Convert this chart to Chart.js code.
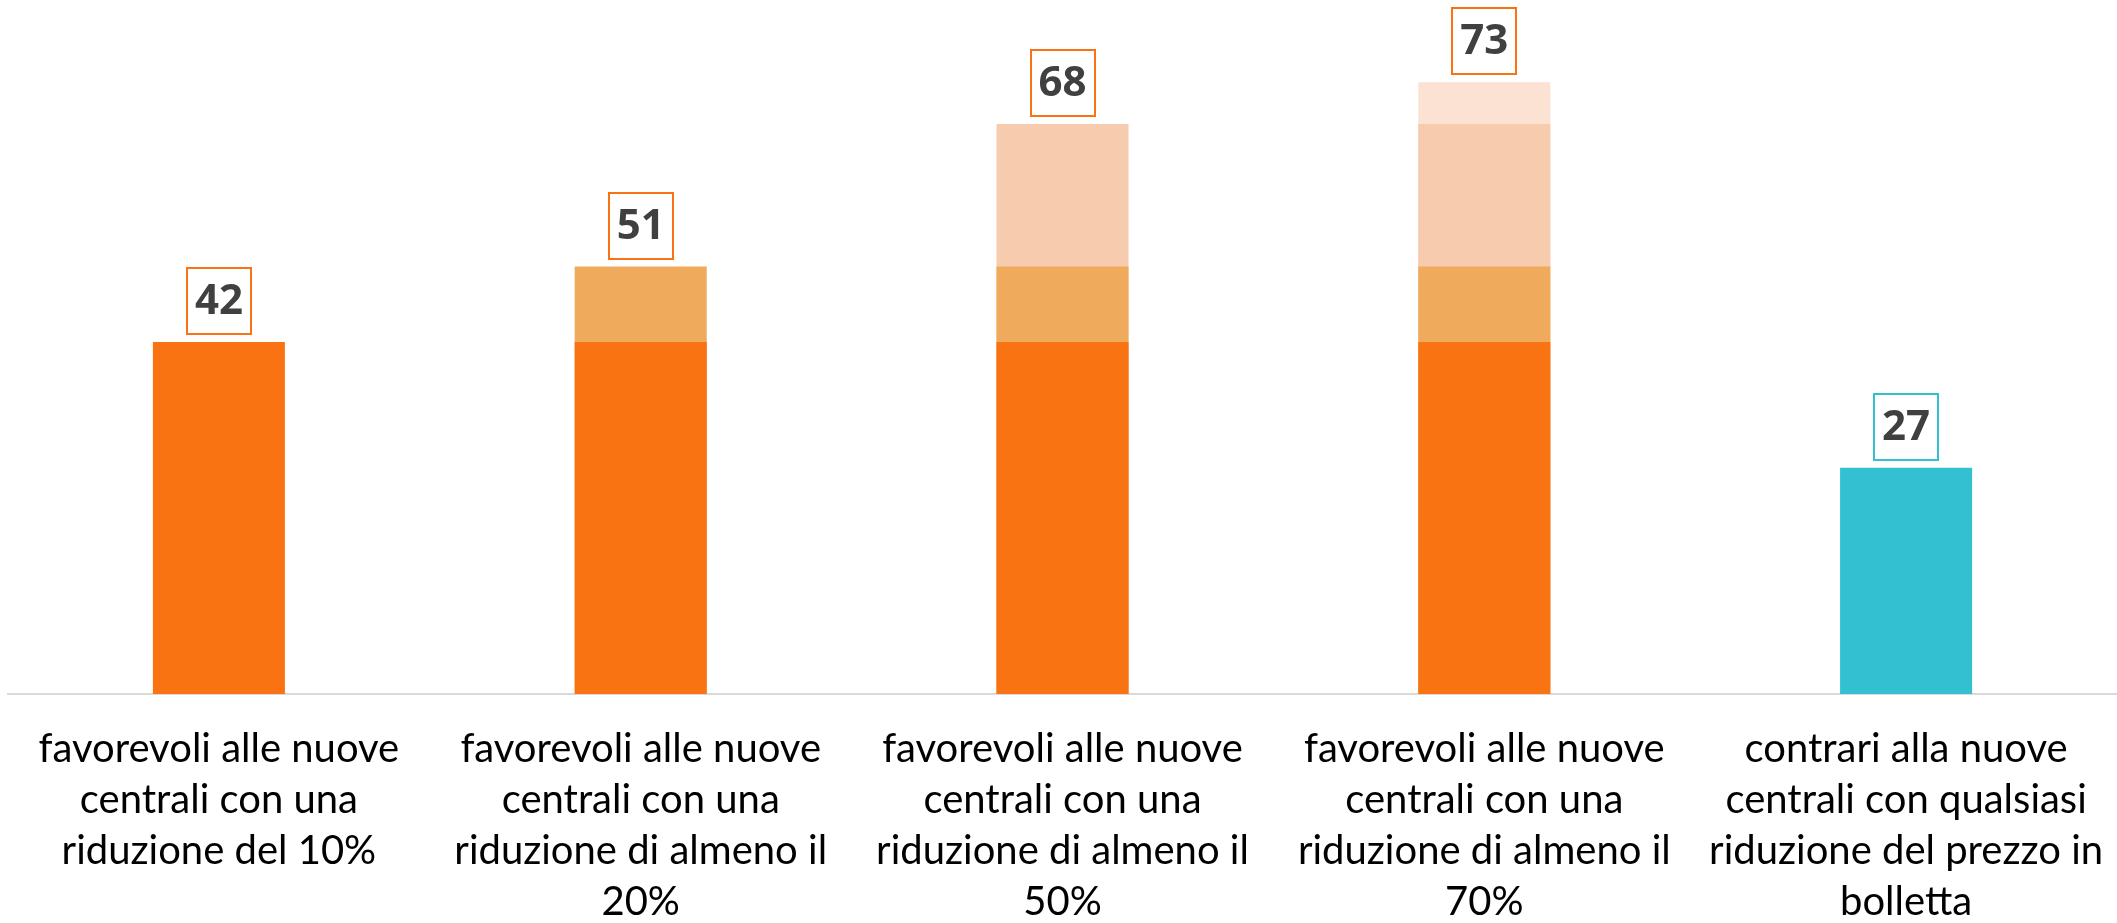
<!DOCTYPE html>
<html>
<head>
<meta charset="utf-8">
<script src="https://cdn.jsdelivr.net/npm/chart.js@4"></script>
<style>
  html, body { margin: 0; padding: 0; background: #ffffff; }
  #wrap { width: 2117px; height: 923px; }
</style>
</head>
<body>
<div id="wrap"><canvas id="c" width="2117" height="923"></canvas></div>
<script>
// ---- data ----
const categories = [
  ["favorevoli alle nuove", "centrali con una", "riduzione del 10%"],
  ["favorevoli alle nuove", "centrali con una", "riduzione di almeno il", "20%"],
  ["favorevoli alle nuove", "centrali con una", "riduzione di almeno il", "50%"],
  ["favorevoli alle nuove", "centrali con una", "riduzione di almeno il", "70%"],
  ["contrari alla nuove", "centrali con qualsiasi", "riduzione del prezzo in", "bolletta"]
];
const favorevoli10 = [42, 42, 42, 42, null];
const favorevoli20 = [null, 51, 51, 51, null];
const favorevoli50 = [null, null, 68, 68, null];
const favorevoli70 = [null, null, null, 73, null];
const contrari     = [null, null, null, null, 27];
const totals       = [42, 51, 68, 73, 27];

const ORANGE = '#FA7313';
const TEAL = '#33C0D0';

const boxPlugin = {
  id: 'boxLabels',
  afterDatasetsDraw(chart) {
    const ctx = chart.ctx;
    const xs = chart.scales.x, ys = chart.scales.y;
    ctx.save();
    totals.forEach((v, i) => {
      const cx = xs.getPixelForValue(i);
      const top = ys.getPixelForValue(v);
      const w = 66, h = 68;
      const bx = Math.round(cx - w / 2), by = Math.round(top - 7 - h);
      ctx.fillStyle = '#ffffff';
      ctx.fillRect(bx, by, w, h);
      ctx.lineWidth = 2;
      ctx.strokeStyle = i === 4 ? TEAL : ORANGE;
      ctx.strokeRect(bx + 1, by + 1, w - 2, h - 2);
      ctx.fillStyle = '#404040';
      ctx.font = 'bold 42px "Open Sans"';
      ctx.textAlign = 'center';
      ctx.textBaseline = 'middle';
      ctx.fillText(String(v), cx, by + h / 2 + 1);
    });
    ctx.restore();
  }
};

const common = { grouped: false, categoryPercentage: 1, barPercentage: 0.313, borderWidth: 0 };

new Chart(document.getElementById('c'), {
  type: 'bar',
  data: {
    labels: categories,
    datasets: [
      Object.assign({ label: '10%', data: favorevoli10, backgroundColor: ORANGE, order: 1 }, common),
      Object.assign({ label: '20%', data: favorevoli20, backgroundColor: '#EFAA5C', order: 2 }, common),
      Object.assign({ label: '50%', data: favorevoli50, backgroundColor: '#F7CBAE', order: 3 }, common),
      Object.assign({ label: '70%', data: favorevoli70, backgroundColor: '#FBE2D3', order: 4 }, common),
      Object.assign({ label: 'contrari', data: contrari, backgroundColor: TEAL, order: 0 }, common)
    ]
  },
  options: {
    responsive: false,
    animation: false,
    layout: { padding: { left: 8, right: 0, top: 0, bottom: 0 } },
    plugins: { legend: { display: false }, tooltip: { enabled: false } },
    scales: {
      y: { display: false, min: 0, max: 82.8 },
      x: {
        afterFit(axis) { axis.height = 229; axis.paddingLeft = 0; axis.paddingRight = 0; },
        grid: { display: false, drawTicks: false },
        border: { display: true, color: '#D9D9D9', width: 2 },
        ticks: {
          color: '#000000',
          padding: 30,
          maxRotation: 0,
          autoSkip: false,
          font: { family: 'Lato', size: 40, lineHeight: '51px' }
        }
      }
    }
  },
  plugins: [boxPlugin]
});
</script>
</body>
</html>
